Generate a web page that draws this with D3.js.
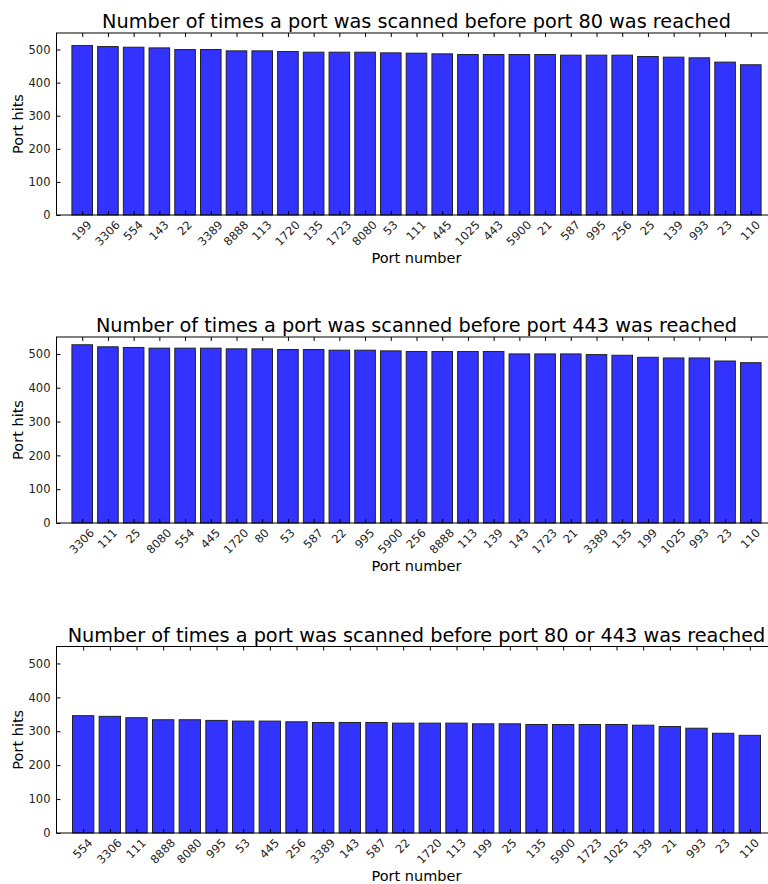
<!DOCTYPE html>
<html>
<head>
<meta charset="utf-8">
<script src="https://cdnjs.cloudflare.com/ajax/libs/d3/7.8.5/d3.min.js"></script>
<style>
    body { margin: 0; background: #fff; }
    svg { display: block; font-family: "DejaVu Sans", sans-serif; }
</style>
</head>
<body>
<div id="chart"></div>
<script>

// port 80 run
const ports80 = ['199', '3306', '554', '143', '22', '3389', '8888', '113', '1720', '135', '1723', '8080', '53',
    '111', '445', '1025', '443', '5900', '21', '587', '995', '256', '25', '139', '993', '23', '110'];
const hits80 = [512, 509, 507, 505, 500, 500, 496, 496, 494, 492, 492, 492, 490,
    489, 487, 485, 485, 485, 485, 483, 483, 483, 479, 477, 475, 462, 454];

// port 443 run
const ports443 = ['3306', '111', '25', '8080', '554', '445', '1720', '80', '53', '587', '22', '995', '5900',
    '256', '8888', '113', '139', '143', '1723', '21', '3389', '135', '199', '1025', '993', '23', '110'];
const hits443 = [527, 521, 519, 517, 517, 517, 515, 515, 513, 513, 511, 511, 509,
    507, 507, 507, 507, 500, 500, 500, 498, 496, 490, 488, 488, 479, 474];

// port 80 or 443 run
const portsBoth = ['554', '3306', '111', '8888', '8080', '995', '53', '445', '256', '3389', '143', '587', '22',
    '1720', '113', '199', '25', '135', '5900', '1723', '1025', '139', '21', '993', '23', '110'];
const hitsBoth = [346, 344, 340, 334, 334, 332, 330, 330, 328, 326, 326, 326, 324,
    324, 324, 322, 322, 320, 320, 320, 320, 318, 314, 309, 294, 288];

const yTicks = [0, 100, 200, 300, 400, 500];
const yMax = 550;


class PortBarChart {

    constructor(svg, opts) {
        this.svg = svg;
        this.opts = opts;
        this.initVis();
    }

    initVis() {
        let vis = this;
        let o = vis.opts;

        vis.left = 56.5;
        vis.right = 776.5;
        vis.top = o.top;
        vis.bottom = o.bottom;

        vis.g = vis.svg.append('g');

        vis.x = d3.scaleLinear()
            .domain([-1, o.ports.length])
            .range([vis.left, vis.right]);

        vis.y = d3.scaleLinear()
            .domain([0, yMax])
            .range([vis.bottom, vis.top]);

        // bars
        vis.g.selectAll('rect.bar')
            .data(o.hits)
            .enter().append('rect')
            .attr('class', 'bar')
            .attr('x', (d, i) => vis.x(i - 0.4))
            .attr('width', (d, i) => vis.x(i + 0.4) - vis.x(i - 0.4))
            .attr('y', d => vis.y(d))
            .attr('height', d => vis.bottom - vis.y(d))
            .attr('fill', '#3333ff')
            .attr('stroke', '#222')
            .attr('stroke-width', 1);

        // axes, ticks point inward
        let idx = d3.range(o.ports.length);

        vis.xAxisGroup = vis.g.append('g')
            .attr('class', 'axis x-axis')
            .attr('transform', `translate(0,${vis.bottom})`)
            .call(d3.axisBottom(vis.x).tickValues(idx).tickSize(-4).tickFormat(i => o.ports[i]));

        vis.g.append('g')
            .attr('transform', `translate(0,${vis.top})`)
            .call(d3.axisTop(vis.x).tickValues(idx).tickSize(-4).tickFormat(''));

        vis.g.append('g')
            .attr('class', 'axis y-axis')
            .attr('transform', `translate(${vis.left},0)`)
            .call(d3.axisLeft(vis.y).tickValues(yTicks).tickSize(-4).tickPadding(6));

        vis.g.append('g')
            .attr('transform', `translate(${vis.right},0)`)
            .call(d3.axisRight(vis.y).tickValues(yTicks).tickSize(-4).tickFormat(''));

        vis.g.selectAll('.domain').remove();
        vis.g.selectAll('.tick line').attr('stroke', '#000');
        vis.g.selectAll('.tick text')
            .attr('fill', '#222')
            .style('font-size', '11.5px')
            .style('font-family', '"DejaVu Sans", sans-serif');

        // rotate x labels 45deg, centred on the tick
        vis.xAxisGroup.selectAll('.tick text').each(function () {
            let t = d3.select(this);
            let w = this.getComputedTextLength();
            let half = (w + 8) / Math.SQRT2 / 2;
            t.attr('text-anchor', 'middle')
                .attr('y', 0)
                .attr('dy', '0.35em')
                .attr('transform', `translate(-1,${5 + half}) rotate(-45)`);
        });

        // frame
        vis.g.append('rect')
            .attr('x', vis.left)
            .attr('y', vis.top)
            .attr('width', vis.right - vis.left)
            .attr('height', vis.bottom - vis.top)
            .attr('fill', 'none')
            .attr('stroke', '#000')
            .attr('stroke-width', 1);

        // title
        vis.g.append('text')
            .text(o.title)
            .attr('x', (vis.left + vis.right) / 2)
            .attr('y', vis.top - 5)
            .attr('text-anchor', 'middle')
            .style('font-size', '19.3px')
            .attr('fill', '#000');

        // axis titles
        vis.g.append('text')
            .text('Port number')
            .attr('x', (vis.left + vis.right) / 2)
            .attr('y', vis.bottom + 48)
            .attr('text-anchor', 'middle')
            .style('font-size', '14.5px');

        vis.g.append('text')
            .text('Port hits')
            .attr('transform', `translate(23,${(vis.top + vis.bottom) / 2}) rotate(-90)`)
            .attr('text-anchor', 'middle')
            .style('font-size', '14.5px');
    }
}


let svg = d3.select('#chart').append('svg')
    .attr('width', 768)
    .attr('height', 884);

new PortBarChart(svg, {
    title: 'Number of times a port was scanned before port 80 was reached',
    ports: ports80, hits: hits80, top: 33, bottom: 215
});

new PortBarChart(svg, {
    title: 'Number of times a port was scanned before port 443 was reached',
    ports: ports443, hits: hits443, top: 337, bottom: 523
});

new PortBarChart(svg, {
    title: 'Number of times a port was scanned before port 80 or 443 was reached',
    ports: portsBoth, hits: hitsBoth, top: 646.5, bottom: 833
});

</script>
</body>
</html>
